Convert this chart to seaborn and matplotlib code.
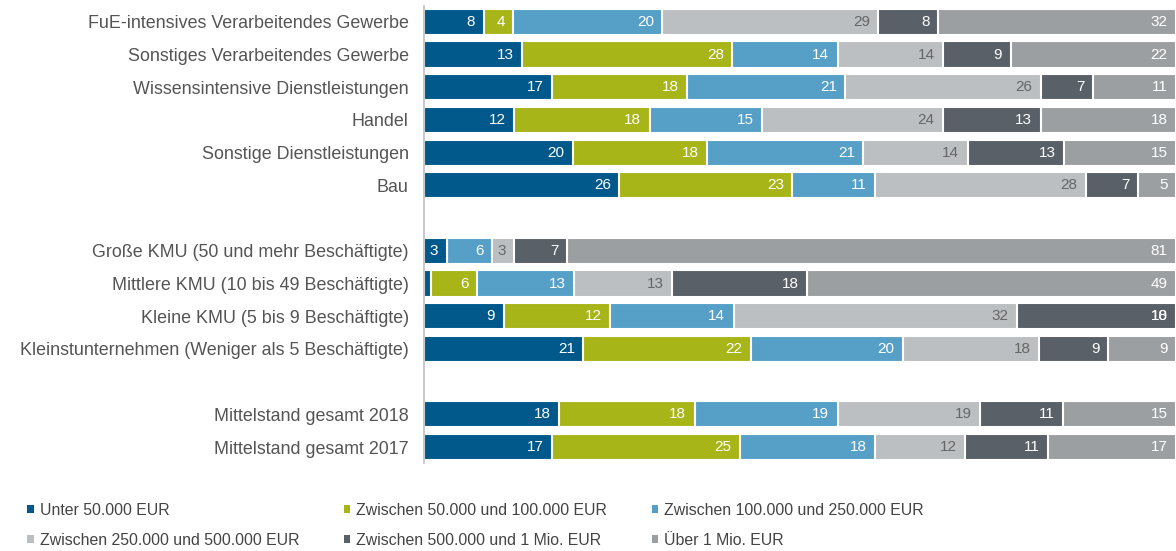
import pandas as pd
import matplotlib.pyplot as plt
import seaborn as sns
from matplotlib.patches import Patch

# rows top to bottom, empty strings are the gaps between groups
categories = [
    'FuE-intensives Verarbeitendes Gewerbe',
    'Sonstiges Verarbeitendes Gewerbe',
    'Wissensintensive Dienstleistungen',
    'Handel',
    'Sonstige Dienstleistungen',
    'Bau',
    ' ',
    'Große KMU (50 und mehr Beschäftigte)',
    'Mittlere KMU (10 bis 49 Beschäftigte)',
    'Kleine KMU (5 bis 9 Beschäftigte)',
    'Kleinstunternehmen (Weniger als 5 Beschäftigte)',
    '  ',
    'Mittelstand gesamt 2018',
    'Mittelstand gesamt 2017',
]
rows = [c for c in categories if c.strip()]

series = [
    'Unter 50.000 EUR',
    'Zwischen 50.000 und 100.000 EUR',
    'Zwischen 100.000 und 250.000 EUR',
    'Zwischen 250.000 und 500.000 EUR',
    'Zwischen 500.000 und 1 Mio. EUR',
    'Über 1 Mio. EUR',
]

unter_50k = [8, 13, 17, 12, 20, 26, 3, 1, 9, 21, 18, 17]
k50_100 = [4, 28, 18, 18, 18, 23, 0, 6, 12, 22, 18, 25]
k100_250 = [20, 14, 21, 15, 21, 11, 6, 13, 14, 20, 19, 18]
k250_500 = [29, 14, 26, 24, 14, 28, 3, 13, 32, 18, 19, 12]
k500_1mio = [8, 9, 7, 13, 13, 7, 7, 18, 18, 9, 11, 11]
ueber_1mio = [32, 22, 11, 18, 15, 5, 81, 49, 0, 9, 15, 17]
# the source prints "10" for Kleine KMU on a bar of zero width
label_override = {('Kleine KMU (5 bis 9 Beschäftigte)', 'Über 1 Mio. EUR'): '10'}

colors = ['#00598a', '#a8b519', '#56a0c8', '#bcbfc2', '#5a6068', '#9c9fa2']
text_colors = ['white', 'white', 'white', '#666666', 'white', 'white']

values = [unter_50k, k50_100, k100_250, k250_500, k500_1mio, ueber_1mio]
df = pd.DataFrame({s: v for s, v in zip(series, values)}, index=rows)
pct = df.div(df.sum(axis=1), axis=0) * 100
cum = pct.cumsum(axis=1)

sns.set_style('white')
plt.rcParams['font.family'] = ['Liberation Sans', 'DejaVu Sans']

fig, ax = plt.subplots(figsize=(11.76, 5.51), dpi=100)
fig.subplots_adjust(left=0.3605, right=1.0, top=0.99, bottom=0.159)

# stacked bars: draw cumulative totals from the widest down
for i in range(len(series) - 1, -1, -1):
    d = pd.DataFrame({'cat': rows, 'val': cum.iloc[:, i].values})
    sns.barplot(data=d, x='val', y='cat', order=categories, orient='h',
                color=colors[i], saturation=1, width=0.8,
                edgecolor='white', linewidth=1.5, ax=ax)

for i, s in enumerate(series):
    for r in rows:
        v = df.loc[r, s]
        txt = label_override.get((r, s), str(v) if v >= 2 else '')
        if not txt:
            continue
        ax.annotate(txt, (cum.loc[r, s], categories.index(r)),
                    xytext=(-6, 0), textcoords='offset points',
                    ha='right', va='center', fontsize=11,
                    color=text_colors[i])

ax.set_xlim(0, 100)
ax.set_ylim(len(categories) - 0.5, -0.5)
ax.set_xlabel('')
ax.set_ylabel('')
ax.set_xticks([])
ax.tick_params(axis='y', length=0, pad=11, labelsize=12.9, labelcolor='#555555')
for side in ['top', 'right', 'bottom']:
    ax.spines[side].set_visible(False)
ax.spines['left'].set_color('#bfbfbf')
ax.spines['left'].set_linewidth(1.2)

handles = [Patch(facecolor=c, edgecolor='none') for c in colors]
order = [0, 3, 1, 4, 2, 5]
leg = fig.legend([handles[k] for k in order], [series[k] for k in order],
                 ncol=3, loc='lower left', bbox_to_anchor=(0.011, -0.02),
                 frameon=False, handlelength=0.4, handleheight=0.4,
                 handletextpad=0.4, columnspacing=2.8, labelspacing=0.95,
                 prop={'size': 11.4})
for t in leg.get_texts():
    t.set_color('#444444')

fig.savefig('out.png', dpi=100)
